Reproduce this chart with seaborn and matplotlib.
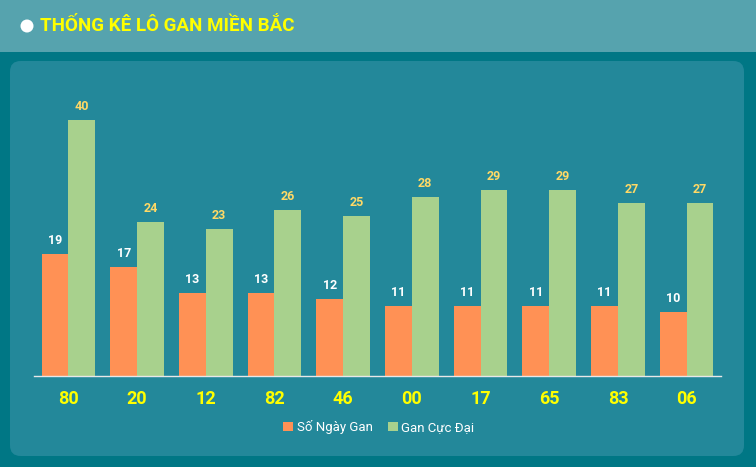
import matplotlib
matplotlib.use("Agg")
import matplotlib.pyplot as plt
from matplotlib.patches import FancyBboxPatch, Rectangle, Ellipse
import seaborn as sns
import pandas as pd

categories = ["80", "20", "12", "82", "46", "00", "17", "65", "83", "06"]
so_ngay_gan = [19, 17, 13, 13, 12, 11, 11, 11, 11, 10]
gan_cuc_dai = [40, 24, 23, 26, 25, 28, 29, 29, 27, 27]
series_names = ["Số Ngày Gan", "Gan Cực Đại"]
title = "THỐNG KÊ LÔ GAN MIỀN BẮC"

W, H = 756, 467
fig = plt.figure(figsize=(W / 100, H / 100), dpi=100)
fig.patch.set_facecolor("#007785")

# header band
fig.patches.append(Rectangle((0, (H - 52) / H), 1, 52 / H, transform=fig.transFigure,
                             facecolor="#56a3ae", edgecolor="none", zorder=-3))
# panel
fig.patches.append(FancyBboxPatch((10 / W, (H - 456) / H), 734 / W, 395 / H,
                                  boxstyle="round,pad=0,rounding_size=0.014",
                                  transform=fig.transFigure, facecolor="#23889a",
                                  edgecolor="none", zorder=-3, mutation_aspect=W / H))
fig.patches.append(Ellipse((27 / W, (H - 26) / H), 13 / W, 13 / H, transform=fig.transFigure,
                           facecolor="white", edgecolor="none", zorder=-2))
fig.text(40 / W, (H - 26) / H, title, color="#ffff00", fontsize=13.5, fontweight="bold",
         family="Roboto", va="center", ha="left")

df = pd.DataFrame({
    "cat": categories * 2,
    "val": so_ngay_gan + gan_cuc_dai,
    "series": [series_names[0]] * len(categories) + [series_names[1]] * len(categories),
})

ax_left, ax_right = 34, 721
base_y, top_y = 376, 80
ax = fig.add_axes([ax_left / W, (H - base_y) / H, (ax_right - ax_left) / W, (base_y - top_y) / H])
ax.set_facecolor("none")
palette = {series_names[0]: "#ff9155", series_names[1]: "#a8d18d"}
sns.barplot(data=df, x="cat", y="val", hue="series", order=categories, hue_order=series_names,
            palette=palette, width=0.78, saturation=1, ax=ax, legend=False, linewidth=0)

label_colors = ["#ffffff", "#ffd966"]
for cont, col in zip(ax.containers, label_colors):
    ax.bar_label(cont, padding=5, color=col, fontsize=9, fontweight="bold", family="Roboto")

ax.set_ylim(0, (base_y - top_y) / 6.4)
ax.set_xlim(-0.5, len(categories) - 0.5)
for s in ["top", "right", "left"]:
    ax.spines[s].set_visible(False)
ax.spines["bottom"].set_color("#e8e8e8")
ax.spines["bottom"].set_linewidth(1)
ax.set_yticks([])
ax.set_xlabel("")
ax.set_ylabel("")
ax.tick_params(axis="x", length=0, pad=10, labelcolor="#ffff00", labelsize=13)
for t in ax.get_xticklabels():
    t.set_fontweight("bold")
    t.set_family("Roboto")
    t.set_fontstretch("condensed")

handles = [Rectangle((0, 0), 1, 1, facecolor=palette[n], edgecolor="none") for n in series_names]
leg = fig.legend(handles, series_names, loc="center", bbox_to_anchor=(379 / W, (H - 427) / H),
                 ncol=2, frameon=False, handlelength=0.7, handleheight=0.7, handletextpad=0.3,
                 columnspacing=1.2, prop={"family": "Roboto", "size": 9.5})
for t in leg.get_texts():
    t.set_color("white")

fig.savefig("out.png", dpi=100, facecolor=fig.get_facecolor())
